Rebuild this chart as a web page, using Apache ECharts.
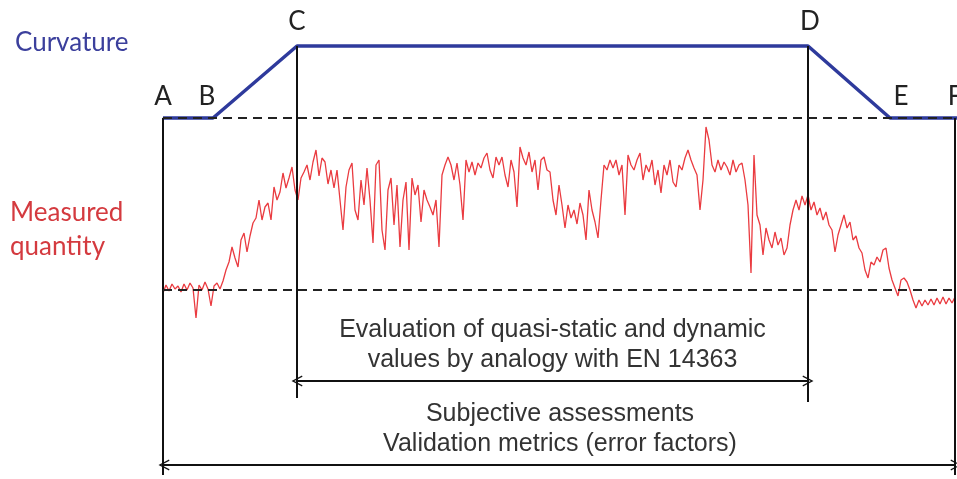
<!DOCTYPE html>
<html lang="en">
<head>
    <meta charset="utf-8">
    <title>Curvature and measured quantity</title>
    <script src="https://cdn.jsdelivr.net/npm/echarts@6/dist/echarts.min.js"></script>
    <style>
        html, body { margin: 0; padding: 0; background: #fff; }
        #chart { width: 957px; height: 479px; }
    </style>
</head>
<body>
<div id="chart"></div>
<script type="text/javascript">
    // track position (x) and schematic signal level (y)
    var curvaturePoints = ['A', 'B', 'C', 'D', 'E', 'F'];
    var curvatureX = [0, 50, 134, 645, 727, 794];
    var curvatureY = [172, 172, 244, 244, 172, 172];
    var curvatureBase = 172;
    var measuredBase = 0;

    // measured quantity, one sample every 3 units of x
    var measuredStep = 3;
    var measured = [
        -3, 5, -1, 6, 1, 4, -2, 6, 0, 7, 2, -28, 5, 0, 8, 1, -16, 4, 7, 1, 9,
        20, 28, 43, 32, 23, 50, 57, 38, 54, 67, 72, 90, 70, 83, 87, 70, 103, 90, 98, 117, 102, 112, 123, 100, 90,
        112, 118, 125, 110, 128, 140, 114, 132, 128, 106, 120, 102, 120, 90, 60, 103, 120, 127, 80, 70,
        110, 85, 122, 90, 47, 125, 130, 60, 40, 100, 112, 65, 105, 43,
        90, 108, 40, 112, 95, 105, 68, 100, 90, 83, 75, 90, 43, 115, 125, 133, 125, 110, 127, 105,
        70, 130, 118, 128, 115, 127, 122, 132, 137, 120, 112, 133, 125,
        133, 115, 103, 130, 118, 83, 143, 132, 125, 138, 118, 130, 100, 130, 133, 120, 118, 90, 75, 105,
        85, 62, 85, 72, 80, 66, 87, 75, 50, 100, 80, 68, 52, 90,
        125, 120, 130, 122, 130, 115, 125, 75, 135, 125, 120, 130, 137, 110, 125, 118, 130, 105, 120, 97,
        125, 115, 130, 108, 103, 125, 120, 132, 140, 130, 122, 115, 80, 110,
        163, 150, 125, 118, 130, 120, 128, 123, 115, 130, 118, 125, 127, 110, 85, 17, 135, 75, 65, 35,
        62, 50, 42, 58, 45, 52, 35, 42, 65, 80, 90, 80, 94,
        85, 95, 80, 88, 75, 82, 70, 78, 65, 60, 38, 55, 65, 75, 62, 68, 50, 54, 42, 37,
        20, 12, 28, 25, 33, 28, 40, 42, 22, 10, 2, -6, 10,
        12, 8, 0, -10, -18, -10, -16, -10, -15, -9, -15, -8, -14, -7, -14, -8, -13, -7
    ];

    // vertical markers: [x, top, bottom]
    var markers = [[0, 172, -185], [134, 244, -108], [645, 244, -112], [792, 172, -185]];
    var arrowInner = { from: 134, to: 645, y: -91, text: 'Evaluation of quasi-static and dynamic\nvalues by analogy with EN 14363' };
    var arrowOuter = { from: 1, to: 793, y: -175, text: 'Subjective assessments\nValidation metrics (error factors)' };
    var letterOffsets = [[0, 0], [-6, 0], [0, -3], [2, -3], [11, 0], [-2, 0]];

    var myChart = echarts.init(document.getElementById('chart'));

    var curvatureData = curvaturePoints.map(function (name, i) {
        return {
            name: name,
            value: [curvatureX[i], curvatureY[i]],
            label: { offset: letterOffsets[i] }
        };
    });
    var measuredData = measured.map(function (v, i) { return [i * measuredStep, v]; });

    var chevron = 'path://M0,12 L6,0 L12,12 L10.6,12.6 L6,3.2 L1.4,12.6 Z';

    var markLines = [];
    markers.forEach(function (m) {
        markLines.push([
            { coord: [m[0], m[1]], symbol: 'none' },
            { coord: [m[0], m[2]], symbol: 'none' }
        ]);
    });
    [arrowInner, arrowOuter].forEach(function (a) {
        markLines.push([
            { coord: [a.from, a.y], symbol: chevron, symbolSize: [11, 11],
              label: { show: true, position: 'middle', distance: 6, formatter: a.text } },
            { coord: [a.to, a.y], symbol: chevron, symbolSize: [11, 11] }
        ]);
    });

    var textFont = '"Liberation Sans", Arial, sans-serif';
    var sideFont = 'Lato, "Open Sans", sans-serif';

    var option = {
        animation: false,
        grid: { left: 163, right: 0, top: 0, bottom: 0, containLabel: false },
        xAxis: { type: 'value', min: 0, max: 794, show: false },
        yAxis: { type: 'value', min: -189, max: 290, show: false },
        graphic: [
            { type: 'text', left: 15, top: 30, style: { text: 'Curvature', fill: '#3b3f9c', font: '26px ' + sideFont } },
            { type: 'text', left: 10, top: 196, style: { text: 'Measured\nquantity', fill: '#d43a3f', font: '26px ' + sideFont, lineHeight: 34 } }
        ],
        series: [
            {
                name: 'Measured quantity',
                type: 'line',
                data: measuredData,
                symbol: 'none',
                clip: true,
                lineStyle: { color: '#ea3b40', width: 1.3 },
                markLine: {
                    silent: true,
                    animation: false,
                    symbol: 'none',
                    lineStyle: { color: '#111', width: 2, type: 'solid' },
                    label: {
                        color: '#333',
                        fontFamily: textFont,
                        fontSize: 25,
                        lineHeight: 30
                    },
                    data: markLines
                }
            },
            {
                name: 'Curvature',
                type: 'line',
                data: curvatureData,
                symbol: 'circle',
                symbolSize: 1,
                clip: false,
                itemStyle: { color: '#2e3a9c' },
                lineStyle: { color: '#2e3a9c', width: 3.5 },
                label: {
                    show: true,
                    position: 'top',
                    distance: 8,
                    formatter: '{b}',
                    color: '#222',
                    fontFamily: sideFont,
                    fontSize: 26
                },
                markLine: {
                    silent: true,
                    animation: false,
                    symbol: 'none',
                    label: { show: false },
                    lineStyle: { color: '#222', width: 2, type: [9, 6] },
                    data: [
                        [{ coord: [0, curvatureBase] }, { coord: [794, curvatureBase] }],
                        [{ coord: [0, measuredBase] }, { coord: [794, measuredBase] }]
                    ]
                }
            }
        ]
    };

    myChart.setOption(option);
    window.onresize = function () {
        myChart.resize();
    };
</script>
</body>
</html>
